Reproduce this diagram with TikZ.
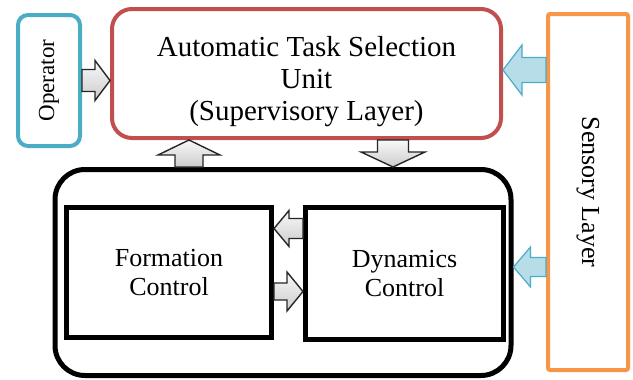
\documentclass[tikz,border=0pt]{standalone}
\usepackage{fontspec}
\setmainfont{Liberation Serif}
\usetikzlibrary{calc}
\definecolor{opblue}{HTML}{4BACC6}
\definecolor{supred}{HTML}{C0504D}
\definecolor{senorange}{HTML}{F79646}
\definecolor{lightblue}{HTML}{B7DEE8}

\begin{document}
\begin{tikzpicture}[x=1pt, y=-1pt,
	layer box/.style={draw, rectangle, line width=4pt, inner sep=0pt, align=center},
	ctrl box/.style={layer box, line width=5pt, font=\fontsize{26}{29}\selectfont},
	shaftw/.store in=\shaftw, headw/.store in=\headw, headl/.store in=\headl,
	block arrow/.style={line join=miter, to path={
		($(\tikztotarget)!\headl!(\tikztostart)$) coordinate (bh)
		($(\tikztostart)!\shaftw!90:(\tikztotarget)$)
		-- ($(bh)!\shaftw!90:(\tikztotarget)$)
		-- ($(bh)!\headw!90:(\tikztotarget)$)
		-- (\tikztotarget)
		-- ($(bh)!\headw!-90:(\tikztotarget)$)
		-- ($(bh)!\shaftw!-90:(\tikztotarget)$)
		-- ($(\tikztostart)!\shaftw!-90:(\tikztotarget)$)
		-- cycle}},
	gray arrow/.style={block arrow, draw=black!85, line width=1.4pt, top color=gray!5, bottom color=gray!40},
	blue arrow/.style={block arrow, draw=opblue, line width=1.2pt, fill=lightblue}]
	\useasboundingbox (0,0) rectangle (633,380);

	% boxes
	\node[layer box, draw=opblue, rounded corners=10pt, minimum width=62, minimum height=131] (operator) at (49,80.5) {};
	\node[rotate=90, font=\fontsize{23}{26}\selectfont] (optext) at (operator.center) {Operator};
	\node[layer box, draw=supred, rounded corners=20pt, minimum width=389, minimum height=129] (supervisor) at (306.5,73.5) {};
	\node[align=center, font=\fontsize{29}{32}\selectfont] (suptext) at (306.5,82) {Automatic Task Selection\\Unit\\(Supervisory Layer)};
	\node[layer box, draw=senorange, rounded corners=2pt, minimum width=80, minimum height=356] (sensory) at (588,192) {};
	\node[rotate=-90, font=\fontsize{26}{29}\selectfont] (sentext) at (sensory.center) {Sensory Layer};
	\node[ctrl box, rounded corners=30pt, minimum width=456, minimum height=206] (controls) at (283,272.5) {};
	\node[ctrl box, minimum width=205, minimum height=130] (formation) at (169,272.5) {Formation\\Control};
	\node[ctrl box, minimum width=198, minimum height=132] (dynamics) at (404.5,273.5) {Dynamics\\Control};

	% arrows
	\draw[gray arrow, shaftw=11pt, headw=20pt, headl=15pt] (operator.east) to (operator.east -| supervisor.west);
	\draw[gray arrow, shaftw=14pt, headw=31pt, headl=15pt] ([xshift=-94pt]controls.north) to ([xshift=-94pt]controls.north |- supervisor.south);
	\draw[gray arrow, shaftw=15.5pt, headw=32pt, headl=15pt] ([xshift=86.5pt]supervisor.south) to ([xshift=86.5pt]supervisor.south |- controls.north);
	\draw[gray arrow, shaftw=10pt, headw=18pt, headl=15pt] ([yshift=45pt]dynamics.west) to ([yshift=45pt]dynamics.west -| formation.east);
	\draw[gray arrow, shaftw=8.5pt, headw=19.5pt, headl=16pt] ([yshift=-19pt]formation.east) to ([yshift=-19pt]formation.east -| dynamics.west);
	\draw[blue arrow, shaftw=12.5pt, headw=25pt, headl=19pt] ([yshift=122pt]sensory.west) to ([yshift=122pt]sensory.west -| supervisor.east);
	\draw[blue arrow, shaftw=9.5pt, headw=20pt, headl=17pt] ([yshift=-75pt]sensory.west) to ([yshift=-75pt]sensory.west -| controls.east);
\end{tikzpicture}
\end{document}
